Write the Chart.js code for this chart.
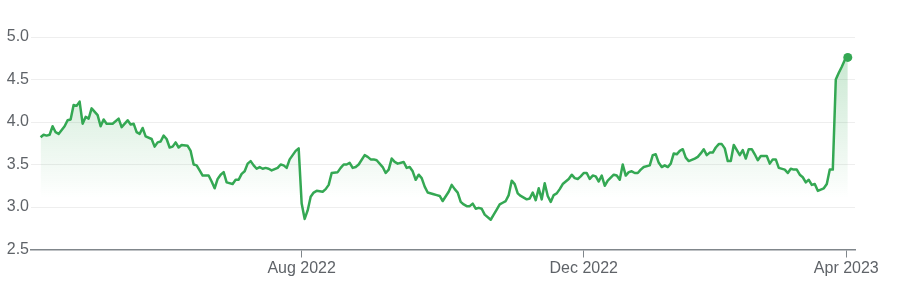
<!DOCTYPE html>
<html>
<head>
<meta charset="utf-8">
<script src="https://cdn.jsdelivr.net/npm/chart.js@4/dist/chart.umd.min.js"></script>
<style>
    body { margin: 0; background: #fff; }
    #wrap { width: 904px; height: 288px; }
</style>
</head>
<body>
<div id="wrap"><canvas id="priceChart" width="904" height="288"></canvas></div>
<script>
// trading session number (0 = first day shown) and closing price
var sessions = [0, 1, 2, 3, 4, 5, 6, 8, 9, 10, 11, 12, 13, 14, 15, 16, 17, 19, 20, 21, 22, 24, 26, 27, 29, 30,
    31, 32, 33, 34, 35, 37, 38, 39, 40, 41, 42, 43, 44, 45, 46, 47, 49, 50, 51, 52, 53, 54, 56, 57, 58, 59, 60,
    61, 62, 64, 65, 66, 67, 68, 69, 70, 71, 72, 73, 74, 75, 76, 77, 79, 80, 81, 82, 83, 84, 85, 86, 87, 88, 89,
    90, 91, 92, 94, 95, 96, 97, 99, 100, 101, 102, 103, 104, 105, 106, 108, 109, 110, 111, 112, 114, 115, 116,
    117, 118, 119, 121, 122, 123, 124, 125, 126, 127, 128, 129, 131, 132, 133, 134, 136, 137, 138, 139, 140,
    141, 142, 143, 144, 145, 146, 147, 148, 150, 151, 152, 153, 154, 155, 156, 157, 158, 159, 160, 162, 163,
    164, 165, 166, 167, 168, 169, 170, 171, 172, 173, 174, 176, 177, 178, 179, 180, 181, 182, 183, 184, 185,
    186, 187, 188, 189, 191, 192, 193, 194, 195, 196, 197, 198, 199, 200, 201, 203, 204, 205, 206, 207, 208,
    209, 210, 211, 212, 213, 214, 215, 216, 218, 219, 220, 221, 222, 223, 224, 225, 226, 227, 228, 229, 230,
    231, 233, 234, 235, 236, 237, 238, 239, 240, 242, 243, 244, 245, 246, 248, 249, 250, 251, 252, 253, 254,
    255, 256, 257, 258, 259, 261, 262, 263, 264, 265, 266, 267, 268, 269];
var prices = [3.82, 3.85, 3.84, 3.85, 3.95, 3.88, 3.86, 3.95, 4.02, 4.03, 4.20, 4.19, 4.24, 3.98, 4.06, 4.04,
    4.16, 4.08, 3.95, 4.03, 3.98, 3.98, 4.04, 3.94, 4.02, 3.97, 3.98, 3.88, 3.86, 3.93, 3.83, 3.80, 3.71, 3.76,
    3.77, 3.84, 3.80, 3.70, 3.71, 3.76, 3.70, 3.73, 3.72, 3.66, 3.50, 3.49, 3.43, 3.37, 3.37, 3.30, 3.22, 3.33,
    3.38, 3.41, 3.29, 3.27, 3.32, 3.32, 3.39, 3.42, 3.51, 3.54, 3.49, 3.45, 3.47, 3.45, 3.46, 3.45, 3.43, 3.46,
    3.50, 3.49, 3.46, 3.56, 3.61, 3.66, 3.69, 3.04, 2.86, 2.96, 3.12, 3.17, 3.19, 3.18, 3.21, 3.26, 3.40, 3.41,
    3.46, 3.50, 3.50, 3.52, 3.46, 3.47, 3.50, 3.61, 3.59, 3.56, 3.56, 3.55, 3.47, 3.40, 3.44, 3.57, 3.53, 3.51,
    3.53, 3.46, 3.47, 3.42, 3.32, 3.38, 3.34, 3.24, 3.17, 3.15, 3.14, 3.13, 3.07, 3.18, 3.26, 3.21, 3.17, 3.06,
    3.03, 3.01, 3.01, 3.04, 2.98, 2.99, 2.98, 2.91, 2.85, 2.91, 2.97, 3.03, 3.05, 3.07, 3.14, 3.31, 3.27, 3.16,
    3.13, 3.09, 3.10, 3.17, 3.08, 3.22, 3.09, 3.28, 3.13, 3.06, 3.14, 3.16, 3.21, 3.27, 3.33, 3.38, 3.34, 3.33,
    3.36, 3.40, 3.40, 3.33, 3.37, 3.36, 3.30, 3.37, 3.25, 3.31, 3.38, 3.37, 3.32, 3.50, 3.37, 3.41, 3.42, 3.40,
    3.40, 3.44, 3.47, 3.49, 3.61, 3.62, 3.52, 3.47, 3.49, 3.47, 3.51, 3.63, 3.62, 3.66, 3.68, 3.58, 3.54, 3.57,
    3.59, 3.63, 3.68, 3.61, 3.64, 3.64, 3.70, 3.74, 3.74, 3.69, 3.54, 3.54, 3.73, 3.61, 3.67, 3.57, 3.68, 3.68,
    3.62, 3.55, 3.60, 3.60, 3.51, 3.56, 3.56, 3.46, 3.44, 3.40, 3.45, 3.44, 3.44, 3.38, 3.35, 3.29, 3.32, 3.26,
    3.27, 3.19, 3.22, 3.27, 3.44, 3.44, 4.50, 4.58, 4.65, 4.73, 4.76];

// month labels on the time axis
var tickSessions = [87, 181, 268.5];
var tickLabels = ['Aug 2022', 'Dec 2022', 'Apr 2023'];

var GREEN = '#34a853';
var TEXT = '#5f6368';
var FONT = { family: 'Arial, "Liberation Sans", sans-serif', size: 16 };

var points = [];
for (let i = 0; i < sessions.length; i++) {
    points.push({ x: sessions[i], y: prices[i] });
}
var last = points.length - 1;

var ctx = document.getElementById('priceChart');
var myChart = new Chart(ctx, {
    type: 'line',
    data: {
        datasets: [{
            data: points,
            borderColor: GREEN,
            borderWidth: 2.5,
            tension: 0,
            borderJoinStyle: 'round',
            fill: 'start',
            backgroundColor: function(context) {
                var chart = context.chart;
                if (!chart.chartArea) return 'rgba(0,0,0,0)';
                var g = chart.ctx.createLinearGradient(0, chart.chartArea.top, 0, chart.scales.y.getPixelForValue(3.1));
                g.addColorStop(0, 'rgba(52,168,83,0.30)');
                g.addColorStop(1, 'rgba(52,168,83,0)');
                return g;
            },
            pointRadius: function(c) { return c.dataIndex === last ? 4.5 : 0; },
            pointBackgroundColor: GREEN,
            pointBorderWidth: 0,
            pointHoverRadius: 0
        }]
    },
    options: {
        responsive: false,
        animation: false,
        layout: { padding: { top: 37, right: 49, bottom: 0, left: 0 } },
        plugins: {
            legend: { display: false },
            tooltip: { enabled: false }
        },
        scales: {
            x: {
                type: 'linear',
                min: -3.2,
                max: 271.4,
                afterBuildTicks: function(scale) {
                    scale.ticks = tickSessions.map(function(v) { return { value: v }; });
                },
                afterFit: function(scale) { scale.height = 38.5; },
                ticks: {
                    autoSkip: false,
                    maxRotation: 0,
                    padding: 1,
                    color: TEXT,
                    font: FONT,
                    callback: function(v, i) { return tickLabels[i]; }
                },
                grid: {
                    drawOnChartArea: false,
                    drawTicks: true,
                    tickLength: 8,
                    color: '#80868b'
                },
                border: { display: true, color: '#80868b', width: 1.5 }
            },
            y: {
                min: 2.5,
                max: 5.0,
                afterFit: function(scale) { scale.width = 31; },
                ticks: {
                    stepSize: 0.5,
                    padding: 2,
                    color: TEXT,
                    font: FONT,
                    callback: function(v) { return v.toFixed(1); }
                },
                grid: { color: '#eeeeee', drawTicks: false },
                border: { display: false }
            }
        }
    }
});
</script>
</body>
</html>
